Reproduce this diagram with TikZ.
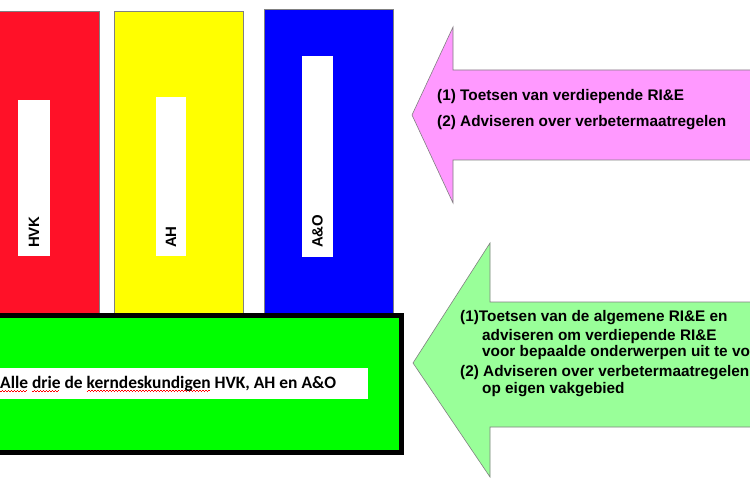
\documentclass[tikz,border=0pt]{standalone}
\usepackage{fontspec}
\setmainfont{Liberation Sans}
\newfontfamily\calib{Carlito}
\definecolor{hvkred}{HTML}{FF1128}
\definecolor{ahyellow}{HTML}{FFFF00}
\definecolor{aoblue}{HTML}{0000FF}
\definecolor{teamgreen}{HTML}{00FF00}
\definecolor{pinkarrow}{HTML}{FF99FF}
\definecolor{greenarrow}{HTML}{99FF99}
\newcommand\spellmark[1]{\setbox0\hbox{#1}\rlap{\color{red}\raisebox{-3.2bp}{\hbox to\wd0{\leaders\hbox to 3bp{\rule{1.5bp}{0.6bp}\rule[0.9bp]{1.5bp}{0.6bp}}\hfill}}}\box0\relax}
\begin{document}
\begin{tikzpicture}[x=1bp,y=-1bp,
  column/.style={draw=gray, line width=1bp, inner sep=0pt, outer sep=0pt, anchor=north west},
  strip/.style={fill=white, inner sep=0pt, outer sep=0pt, anchor=north west},
  vlabel/.style={rotate=90, anchor=west, inner sep=0pt, font=\bfseries\fontsize{15}{17}\selectfont},
  arrowshape/.style={draw=gray, line width=0.6bp},
  atext/.style={anchor=west, inner sep=0pt, font=\bfseries\fontsize{15.4}{17}\selectfont}
]
\useasboundingbox (0,0) rectangle (750,500);
\clip (0,0) rectangle (750,500);
\fill[white] (0,0) rectangle (750,500);

% columns
\node[column, fill=hvkred, minimum width=101bp, minimum height=310bp] (hvk) at (-2,12) {};
\node[column, fill=ahyellow, minimum width=129bp, minimum height=310bp] (ah) at (114,12) {};
\node[column, fill=aoblue, minimum width=129bp, minimum height=312bp] (ao) at (264,10) {};

\node[strip, minimum width=32bp, minimum height=156bp] (hvkstrip) at (18,100) {};
\node[strip, minimum width=30bp, minimum height=159bp] (ahstrip) at (156,97) {};
\node[strip, minimum width=31bp, minimum height=201bp] (aostrip) at (302,56) {};

\node[vlabel] (hvklbl) at (34,248) {HVK};
\node[vlabel] (ahlbl) at (171,248) {AH};
\node[vlabel] (aolbl) at (317.5,248) {A\&O};

% team box
\node[draw=black, line width=5bp, fill=teamgreen, inner sep=0pt, outer sep=0pt, anchor=north west,
      minimum width=411bp, minimum height=137bp] (team) at (-10,315.5) {};
\node[strip, minimum width=373bp, minimum height=31bp] (teamstrip) at (-5,368) {};
\node[anchor=west, inner sep=0pt, font=\calib\bfseries\fontsize{17.5}{20}\selectfont] (teamlbl) at (0,383.5)
  {\spellmark{Alle} \spellmark{drie} de \spellmark{kerndeskundigen} HVK, AH en A\&O};

% pink arrow
\draw[arrowshape, fill=pinkarrow] (412,115) -- (453,27) -- (453,70) -- (760,70) -- (760,160)
  -- (453,160) -- (453,203) -- cycle;
\node[atext] (p1) at (437,97) {(1) Toetsen van verdiepende RI\&E};
\node[atext] (p2) at (437,123) {(2) Adviseren over verbetermaatregelen};

% green arrow
\draw[arrowshape, fill=greenarrow] (413,363) -- (490,243) -- (490,302) -- (760,302) -- (760,427)
  -- (490,427) -- (490,477) -- cycle;
\node[atext] (g1) at (460,318) {(1)Toetsen van de algemene RI\&E en};
\node[atext] (g2) at (482,337) {adviseren om verdiepende RI\&E};
\node[atext] (g3) at (482,353) {voor bepaalde onderwerpen uit te voeren};
\node[atext] (g4) at (460,373) {(2) Adviseren over verbetermaatregelen};
\node[atext] (g5) at (482,390) {op eigen vakgebied};
\end{tikzpicture}
\end{document}
